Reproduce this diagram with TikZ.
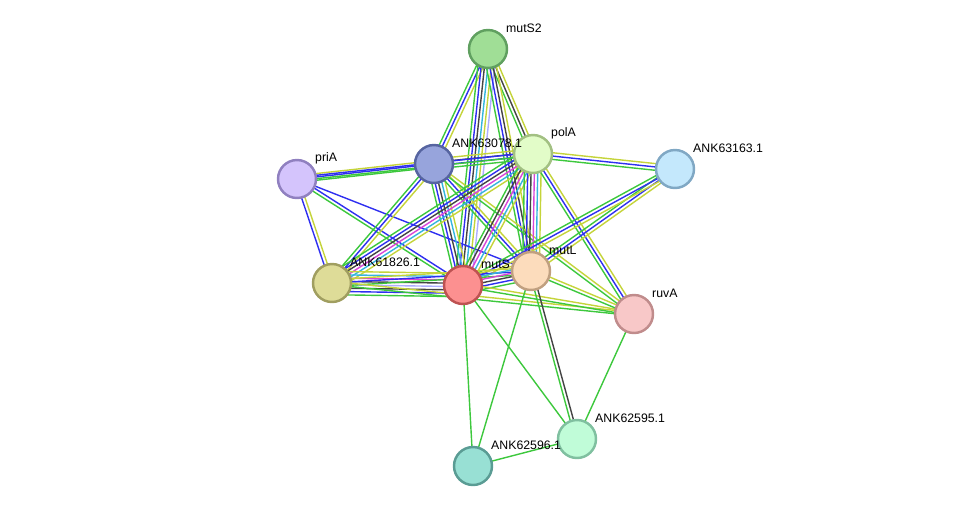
\documentclass[tikz,border=0pt]{standalone}
\usepackage{fontspec}
\setmainfont{Liberation Sans}
\usepackage{xcolor}
\usetikzlibrary{calc,backgrounds}

% evidence colours
\definecolor{grn}{HTML}{3DC83D}
\definecolor{blu}{HTML}{2F2FF0}
\definecolor{blk}{HTML}{444444}
\definecolor{exp}{HTML}{D845D8}
\definecolor{dat}{HTML}{35B5DD}
\definecolor{txt}{HTML}{C5D43A}
\definecolor{hom}{HTML}{ADADFF}

\tikzset{
  prot/.style={circle, draw, line width=1.4pt, minimum size=0.76cm, inner sep=0pt},
  lbl/.style={anchor=west, xshift=-1.3pt, yshift=3.8pt, label distance=0pt, font=\fontsize{7}{8}\selectfont},
  ln/.style={line width=0.8pt},
}

% parallel lines between two proteins, one per colour
\newcommand{\lnk}[3]{%
  \foreach \c [count=\n] in {#3} {\xdef\nlines{\n}}%
  \foreach \c [count=\i] in {#3} {%
    \pgfmathsetlengthmacro\o{(\i-(\nlines+1)/2)*1.9pt}%
    \draw[ln,\c] ($(#1.center)!\o!90:(#2.center)$) -- ($(#2.center)!\o!-90:(#1.center)$);
  }%
}

\begin{document}
\begin{tikzpicture}[x=0.02cm,y=-0.02cm]
		\useasboundingbox (0,0) rectangle (976,512);
		
		\node[prot, fill={rgb,255:red,160;green,222;blue,150}, draw={rgb,255:red,96;green,160;blue,96}, label={[lbl]north east:mutS2}] (mutS2) at (488,49) {}; % top
		\node[prot, fill={rgb,255:red,226;green,252;blue,200}, draw={rgb,255:red,162;green,192;blue,130}, label={[lbl]north east:polA}] (polA) at (533,154) {};
		\node[prot, fill={rgb,255:red,151;green,164;blue,220}, draw={rgb,255:red,86;green,100;blue,160}, label={[lbl]north east:ANK63078.1}] (ank078) at (434,164) {};
		\node[prot, fill={rgb,255:red,212;green,196;blue,252}, draw={rgb,255:red,144;green,128;blue,192}, label={[lbl]north east:priA}] (priA) at (297,179) {};
		\node[prot, fill={rgb,255:red,196;green,232;blue,252}, draw={rgb,255:red,128;green,168;blue,196}, label={[lbl]north east:ANK63163.1}] (ank163) at (675,169) {};
		\node[prot, fill={rgb,255:red,222;green,220;blue,152}, draw={rgb,255:red,160;green,158;blue,96}, label={[lbl]north east:ANK61826.1}] (ank826) at (332,283) {};
		\node[prot, fill={rgb,255:red,252;green,144;blue,144}, draw={rgb,255:red,190;green,82;blue,82}, label={[lbl]north east:mutS}] (mutS) at (463,285) {};
		\node[prot, fill={rgb,255:red,252;green,220;blue,188}, draw={rgb,255:red,192;green,160;blue,128}, label={[lbl]north east:mutL}] (mutL) at (531,271) {};
		\node[prot, fill={rgb,255:red,248;green,200;blue,200}, draw={rgb,255:red,192;green,140;blue,140}, label={[lbl]north east:ruvA}] (ruvA) at (634,314) {};
		\node[prot, fill={rgb,255:red,192;green,252;blue,216}, draw={rgb,255:red,128;green,192;blue,160}, label={[lbl]north east:ANK62595.1}] (ank595) at (577,439) {};
		\node[prot, fill={rgb,255:red,152;green,224;blue,212}, draw={rgb,255:red,90;green,156;blue,148}, label={[lbl]north east:ANK62596.1}] (ank596) at (473,466) {}; % bottom
		
		\begin{scope}[on background layer]
		\lnk{mutS2}{ank078}{grn,blu,txt}
		\lnk{mutS2}{polA}{grn,blk,txt}
		\lnk{mutS2}{mutS}{grn,blu,blk,dat,txt,hom}
		\lnk{mutS2}{mutL}{grn,blu,blk,txt}
		\lnk{ank078}{polA}{grn,blu,blk,txt}
		\lnk{priA}{ank078}{grn,blu,txt}
		\lnk{priA}{polA}{grn,blu}
		\lnk{priA}{ank826}{blu,txt}
		\lnk{priA}{mutS}{grn,blu}
		\lnk{priA}{mutL}{blu}
		\lnk{ank078}{ank826}{grn,blu,txt}
		\lnk{ank078}{mutS}{grn,blu,blk,dat,txt}
		\lnk{ank078}{mutL}{grn,blu,txt}
		\lnk{ank078}{ruvA}{grn,txt}
		\lnk{polA}{ank163}{grn,blu,txt}
		\lnk{polA}{ank826}{grn,blu,blk,exp,dat,txt}
		\lnk{polA}{mutS}{grn,blk,exp,dat,txt}
		\lnk{polA}{mutL}{grn,blu,blk,exp,dat,txt}
		\lnk{polA}{ruvA}{grn,blu,txt}
		\lnk{ank163}{mutL}{grn,blu,txt}
		\lnk{ank163}{mutS}{grn,blu,txt}
		\lnk{ank826}{mutS}{grn,blu,blk,hom,blk,exp,dat,txt}
		\lnk{ank826}{mutL}{grn,blu,txt}
		\lnk{ank826}{ruvA}{grn,txt}
		\lnk{mutS}{mutL}{grn,blu,blk,exp,dat,txt}
		\lnk{mutS}{ruvA}{grn,txt}
		\lnk{mutL}{ruvA}{grn,txt}
		\lnk{mutS}{ank596}{grn}
		\lnk{mutS}{ank595}{grn}
		\lnk{mutL}{ank596}{grn}
		\lnk{mutL}{ank595}{grn,blk}
		\lnk{ruvA}{ank595}{grn}
		\lnk{ank595}{ank596}{grn}
		\end{scope}
		
\end{tikzpicture}
\end{document}
